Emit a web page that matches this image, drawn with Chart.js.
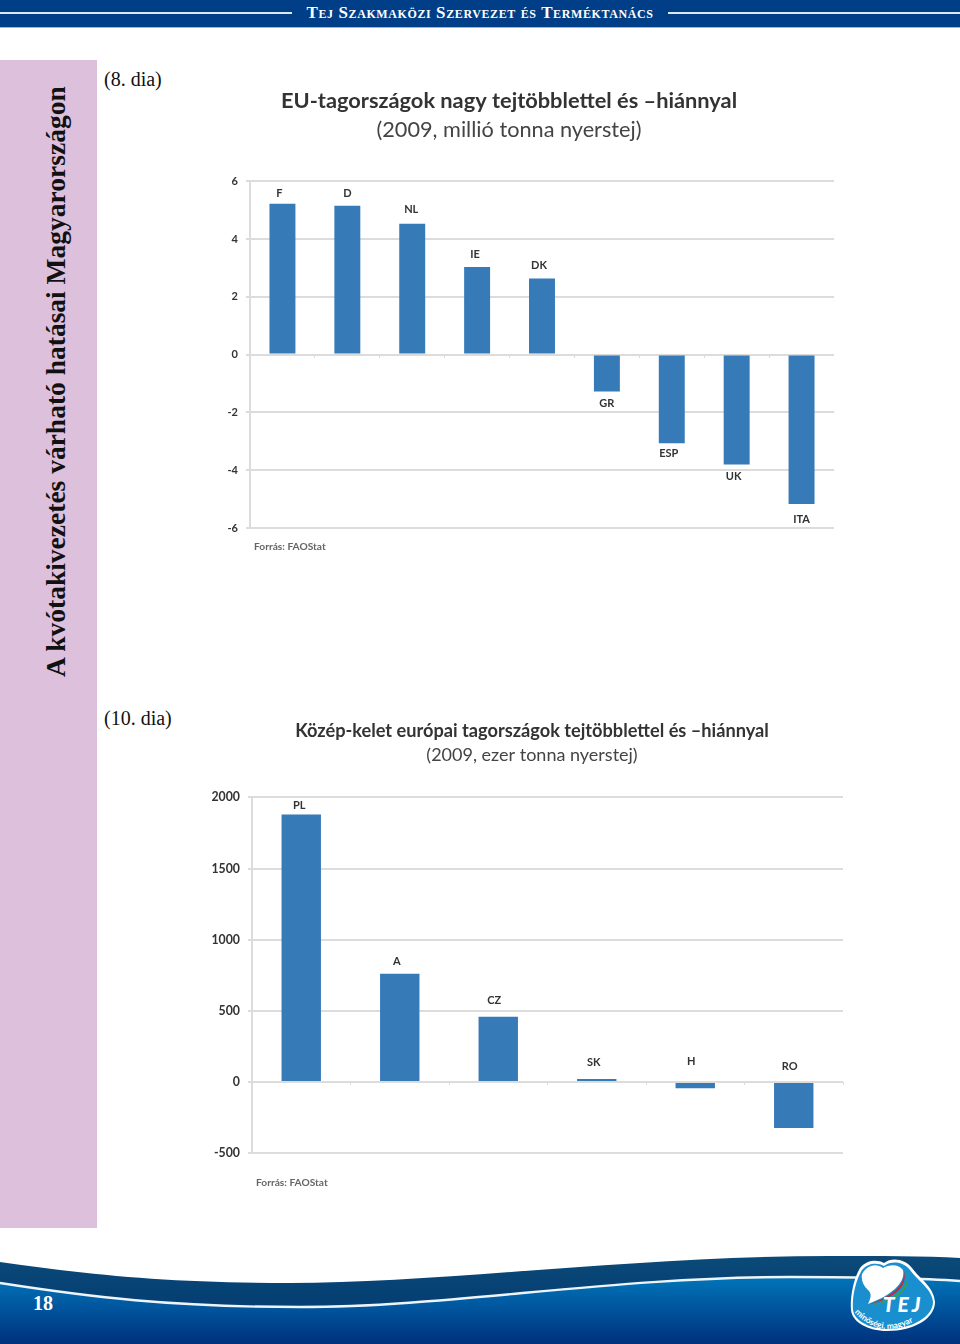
<!DOCTYPE html>
<html lang="hu"><head><meta charset="utf-8">
<script src="https://cdn.jsdelivr.net/npm/chart.js@4/dist/chart.umd.min.js"></script>
<style>
html,body{margin:0;padding:0;background:#fff}
#page{position:relative;width:960px;height:1344px;overflow:hidden;background:#fff}
.abs{position:absolute}
#head{left:0;top:0;width:960px;height:27px;background:#003f87;border-bottom:1.5px solid #8db8e0}
.hl{position:absolute;top:12px;height:2px;background:#dbeaf6}
#headtxt{left:0;width:960px;top:3px;text-align:center;color:#fff;font:bold 17px "Liberation Serif";font-variant:small-caps;letter-spacing:.6px;line-height:20px}
#side{left:0;top:60px;width:97px;height:1168px;background:#dcc0dc}
#sidetxt{left:56px;top:677px;transform-origin:0 0;transform:rotate(-90deg) translateY(-50%);white-space:nowrap;font:bold 27.5px "Liberation Serif";color:#111;line-height:30px}
.dia{font:20px "Liberation Serif";color:#111;line-height:22px}
canvas{position:absolute;filter:blur(.45px)}
#num{left:33px;top:1291px;font:bold 20px "Liberation Serif";color:#fff;line-height:24px}
</style></head><body>
<div id="page">
<div class="abs" id="head"><div class="hl" style="left:0;width:292px"></div><div class="hl" style="left:668px;width:292px"></div></div>
<div class="abs" id="headtxt">Tej Szakmaközi Szervezet és Terméktanács</div>
<div class="abs" id="side"></div>
<div class="abs" id="sidetxt">A kvótakivezetés várható hatásai Magyarországon</div>
<div class="abs dia" style="left:104px;top:68px">(8. dia)</div>
<div class="abs dia" style="left:104px;top:707px">(10. dia)</div>
<canvas id="c1" width="650" height="475" style="left:184px;top:85px;width:650px;height:475px"></canvas>
<canvas id="c2" width="674" height="478" style="left:195px;top:717px;width:674px;height:478px"></canvas>
<svg class="abs" style="left:0;top:1250px" width="960" height="94" viewBox="0 1250 960 94">
<defs>
<linearGradient id="g" x1="0" y1="1280" x2="0" y2="1344" gradientUnits="userSpaceOnUse"><stop offset="0" stop-color="#0072b6"/><stop offset="1" stop-color="#00307d"/></linearGradient>
<linearGradient id="d" x1="0" y1="1256" x2="0" y2="1300" gradientUnits="userSpaceOnUse"><stop offset="0" stop-color="#0b4a78"/><stop offset="1" stop-color="#053f73"/></linearGradient>
<path id="arc" d="M853 1311Q884 1345 925 1314"/>
</defs>
<path d="M0 1262C90 1275 170 1283 290 1283C440 1283 640 1256 830 1256C880 1256 925 1256 960 1258V1344H0Z" fill="url(#d)"/>
<path d="M0 1283C90 1297 170 1307 300 1307C450 1307 610 1277 790 1277C860 1277 920 1278 960 1281V1344H0Z" fill="url(#g)"/>
<path d="M0 1283C90 1297 170 1307 300 1307C450 1307 610 1277 790 1277C860 1277 920 1278 960 1281" fill="none" stroke="#eef5fa" stroke-width="2.4"/>
<g>
<path d="M860 1268C868 1259 878 1260 884 1263C892 1257 905 1259 912 1268C920 1279 934 1287 935 1302C935 1318 915 1331 887 1331C868 1331 852 1322 851 1310C850 1298 853 1280 860 1268Z" fill="#fff"/>
<path d="M862 1270C869 1262 878 1263 884 1266C892 1260 904 1262 910 1270C918 1281 932 1289 933 1302C933 1316 913 1329 887 1329C869 1329 854 1320 853 1310C852 1298 855 1282 862 1270Z" fill="#1a8fcf"/>
<path d="M862 1274C867 1265 876 1263 883 1268C890 1264 899 1264 903 1270C906 1284 889 1296 868 1304C871 1297 872 1294 868 1290C863 1285 861 1280 862 1274Z" fill="#fff"/>
<path d="M903 1268C909 1284 890 1298 867 1305C890 1300 911 1288 903 1268Z" fill="#d2232a"/>
<path d="M906 1272C912 1288 892 1301 868 1306C894 1303 914 1290 906 1272Z" fill="#3aa04a"/>
<text x="903" y="1312" text-anchor="middle" font-family="Lato" font-weight="900" font-style="italic" font-size="21" fill="#fff" letter-spacing="3">TEJ</text>
<text font-family="Lato" font-weight="700" font-size="8.4" fill="#fff"><textPath href="#arc" startOffset="2">minőségi, magyar</textPath></text>
</g>
</svg>
<div class="abs" id="num">18</div>
</div>
<script>
const euCategories = ["F","D","NL","IE","DK","GR","ESP","UK","ITA"];
const euValues = [5.22,5.15,4.53,3.03,2.63,-1.28,-3.07,-3.8,-5.17];
const euTicks = [-6,-4,-2,0,2,4,6];
const ceeCategories = ["PL","A","CZ","SK","H","RO"];
const ceeValues = [1880,760,458,20,-45,-325];
const ceeTicks = [-500,0,500,1000,1500,2000];
const barColor = "#377ab8", gridColor = "#dcdcdc", textColor = "#333";
const sans = "Lato";

function makeChart(id, cfg){
  const labelPlugin = {
    id:"catLabels",
    afterDatasetsDraw(chart){
      const ctx = chart.ctx, x = chart.scales.x, y = chart.scales.y;
      ctx.save();
      ctx.font = "bold 11px "+sans; ctx.fillStyle = textColor;
      ctx.textAlign = "center"; ctx.textBaseline = "middle";
      cfg.categories.forEach((c,i)=>{
        const v = cfg.values[i];
        const base = cfg.labelAboveZero && v < 0 ? 0 : v;
        const dir = (v < 0 && !cfg.labelAboveZero) ? 1 : -1;
        ctx.fillText(c, x.getPixelForValue(i) + cfg.labelShift[i], y.getPixelForValue(base) + dir*cfg.labelGap[i]);
      });
      ctx.font = "bold 10.2px "+sans; ctx.fillStyle = "#666"; ctx.textAlign = "left";
      ctx.fillText("Forrás: FAOStat", cfg.sourceX, chart.chartArea.bottom + cfg.sourceDy);
      ctx.restore();
    }
  };
  return new Chart(document.getElementById(id),{
    type:"bar",
    data:{labels:cfg.categories,datasets:[{data:cfg.values,backgroundColor:barColor,barPercentage:.4,categoryPercentage:1}]},
    plugins:[labelPlugin],
    options:{
      responsive:false,animation:false,devicePixelRatio:1,
      layout:{padding:{top:0,left:0,right:0,bottom:cfg.padBottom}},
      plugins:{
        legend:{display:false},tooltip:{enabled:false},
        title:{display:true,text:cfg.title,color:"#333",font:{family:sans,size:cfg.titleSize,weight:"bold",lineHeight:1.2},padding:cfg.titlePad},
        subtitle:{display:true,text:cfg.subtitle,color:"#444",font:{family:sans,size:cfg.subSize,weight:"normal",lineHeight:1.2},padding:cfg.subPad}
      },
      scales:{
        x:{position:{y:0},offset:true,
           ticks:{display:false},
           grid:{display:true,drawOnChartArea:false,drawTicks:true,tickLength:3,color:gridColor,offset:true},
           border:{display:false}},
        y:{min:cfg.ticks[0],max:cfg.ticks[cfg.ticks.length-1],
           afterFit(s){s.width=cfg.axisWidth},
           afterBuildTicks(s){s.ticks=cfg.ticks.map(v=>({value:v}))},
           ticks:{color:textColor,padding:8,font:{family:sans,size:cfg.tickSize,weight:"bold"},callback:v=>String(v)},
           grid:{color:gridColor,lineWidth:2,tickLength:4},
           border:{color:gridColor,width:2}},
        margin:{position:"right",display:cfg.rightMargin>0,min:0,max:1,
           afterFit(s){s.width=cfg.rightMargin},
           ticks:{display:false},grid:{display:false},border:{display:false}}
      }
    }
  });
}
makeChart("c1",{categories:euCategories,values:euValues,ticks:euTicks,
  title:"EU-tagországok nagy tejtöbblettel és –hiánnyal",subtitle:"(2009, millió tonna nyerstej)",
  titleSize:21.8,subSize:21.7,titlePad:{top:3,bottom:3},subPad:{top:0,bottom:38},tickSize:11,
  axisWidth:66,rightMargin:0,padBottom:32,labelGap:[10,12,14,13,13,12,10,12,15],labelShift:[-3,0,-1,-2,-3,0,-3,-3,0],labelAboveZero:false,sourceX:70,sourceDy:19});
makeChart("c2",{categories:ceeCategories,values:ceeValues,ticks:ceeTicks,
  title:"Közép-kelet európai tagországok tejtöbblettel és –hiánnyal",subtitle:"(2009, ezer tonna nyerstej)",
  titleSize:18.2,subSize:18,titlePad:{top:3,bottom:2},subPad:{top:1,bottom:31},tickSize:12.3,
  axisWidth:57,rightMargin:26,padBottom:42,labelGap:[9,12,16,17,20,15],labelShift:[-2,-3,-4,-3,-4,-4],labelAboveZero:true,sourceX:61,sourceDy:30});
</script>
</body></html>
